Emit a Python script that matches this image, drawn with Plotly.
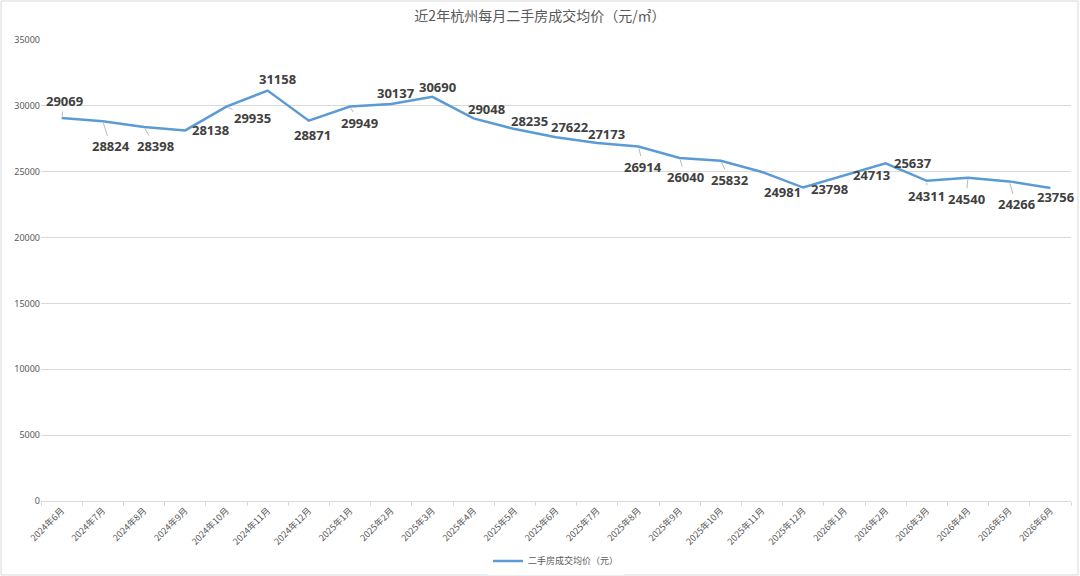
import plotly.graph_objects as go

# 近2年杭州每月二手房成交均价
months = [
    "2024年6月", "2024年7月", "2024年8月", "2024年9月", "2024年10月", "2024年11月", "2024年12月",
    "2025年1月", "2025年2月", "2025年3月", "2025年4月", "2025年5月", "2025年6月", "2025年7月",
    "2025年8月", "2025年9月", "2025年10月", "2025年11月", "2025年12月",
    "2026年1月", "2026年2月", "2026年3月", "2026年4月", "2026年5月", "2026年6月",
]
prices = [
    29069, 28824, 28398, 28138, 29935, 31158, 28871,
    29949, 30137, 30690, 29048, 28235, 27622, 27173,
    26914, 26040, 25832, 24981, 23798,
    24713, 25637, 24311, 24540, 24266, 23756,
]

# 数据标签相对数据点的像素偏移 (dx, dy) 以及是否显示引导线
label_offsets = [
    (3, -17), (8, 25), (11, 19), (25, 0), (26, 11), (10, -12), (4, 14),
    (9, 16), (4, -11), (5, -10), (13, -9), (15, -8), (13, -10), (9, -9),
    (5, 20), (6, 19), (9, 19), (20, 20), (26, 1),
    (27, 0), (27, 0), (0, 15), (-2, 21), (7, 23), (5, 9),
]
leader = [
    True, True, True, False, True, False, False,
    True, False, False, False, False, False, False,
    True, True, True, False, False,
    False, False, True, True, True, False,
]

CJK = "Noto Sans CJK SC"
GRID = "#D9D9D9"
TXT = "#595959"

fig = go.Figure()
fig.add_trace(go.Scatter(
    x=months, y=prices, mode="lines",
    name="二手房成交均价（元）",
    line=dict(color="#5B9BD5", width=2.5),
    hoverinfo="skip",
))

for m, v, (dx, dy), ld in zip(months, prices, label_offsets, leader):
    fig.add_annotation(
        x=m, y=v, text=f"<b>{v}</b>",
        showarrow=True, ax=dx, ay=dy,
        arrowhead=0, arrowwidth=0.8, standoff=2,
        arrowcolor="#A6A6A6" if ld else "rgba(0,0,0,0)",
        font=dict(family="Noto Sans", size=13, color="#404040"),
    )

# 外框
fig.add_shape(type="rect", xref="paper", yref="paper",
              x0=-0.0388, x1=1.0068, y0=-0.1605, y1=1.0846,
              line=dict(color=GRID, width=1))

fig.update_layout(
    width=1080, height=576,
    margin=dict(l=41, r=9, t=40, b=75, autoexpand=False),
    paper_bgcolor="white", plot_bgcolor="white",
    title=dict(text="近2年杭州每月二手房成交均价（元/㎡）", x=0.5, xanchor="center",
               y=1 - 16 / 576, yanchor="middle",
               font=dict(family=CJK, size=14, color=TXT)),
    showlegend=True,
    legend=dict(orientation="h", x=0.5, xanchor="center", y=-0.13, yanchor="middle",
                itemwidth=30, font=dict(family=CJK, size=9, color=TXT)),
    font=dict(family=CJK, color=TXT),
)
fig.update_xaxes(
    type="category", range=[-0.5, len(months) - 0.5], automargin=False,
    showgrid=False, showline=True, linecolor=GRID, linewidth=1,
    ticks="outside", tickson="boundaries", ticklen=4, tickcolor=GRID,
    tickangle=-45, tickfont=dict(family=CJK, size=9, color=TXT),
)
fig.update_yaxes(
    range=[0, 35000], dtick=5000, tickformat="d", automargin=False,
    showgrid=True, gridcolor=GRID, gridwidth=0.75,
    zeroline=False, showline=False, ticks="",
    tickfont=dict(family="Noto Sans", size=9, color=TXT),
)

# 去掉页面默认边距，让图表贴齐窗口
fig.write_html("out.html", config={"displayModeBar": False},
               post_script="document.body.style.margin='0';")
